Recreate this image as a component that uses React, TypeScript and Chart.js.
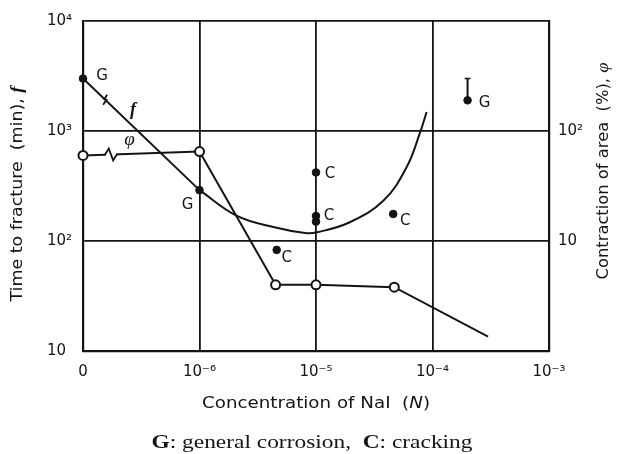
import React, { useEffect, useRef } from 'react';
import { Chart, registerables } from 'chart.js';

Chart.register(...registerables);

// ---------- data ----------
const ZERO_POS = -7; // where concentration "0" sits on the log axis
const X_TICKS = [0, 1e-6, 1e-5, 1e-4, 1e-3];
const X_TICK_LABELS = ['0', '10⁻⁶', '10⁻⁵', '10⁻⁴', '10⁻³'];
const Y_TICKS = [10, 100, 1000, 10000];
const Y_TICK_LABELS = ['10', '10²', '10³', '10⁴'];
const Y2_TICKS = [10, 100];
const Y2_TICK_LABELS = ['10', '10²'];

// f : time to fracture (min)
const F_LINE_CONC = [0, 1e-6];
const F_LINE_TIME = [3000, 290];
const F_CURVE_CONC = [1e-6, 2.1e-6, 4.3e-6, 8.1e-6, 1.02e-5, 1.95e-5, 3.8e-5, 6.0e-5, 7.8e-5, 8.9e-5];
const F_CURVE_TIME = [290, 169, 134, 118, 120, 148, 233, 470, 960, 1490];

// φ : contraction of area (%)
const PHI_CONC = [0, 1e-6, 4.5e-6, 1e-5, 4.7e-5, 3e-4];
const PHI_AREA = [60, 65, 4, 4, 3.8, 1.35];
const PHI_MARKED = [true, true, true, true, true, false];

// G : general corrosion
const G_CONC = [0, 1e-6, 2e-4];
const G_TIME = [3000, 290, 1900];
const G_LABELS = ['G', 'G', 'G'];
// C : cracking
const C_CONC = [1e-5, 1e-5, 1e-5, 4.6e-5, 4.6e-6];
const C_TIME = [420, 169, 150, 176, 83];
const C_LABELS = ['C', 'C', '', 'C', 'C'];
// G point that did not fracture (arrow upward)
const G_ARROW_CONC = [2e-4, 2e-4];
const G_ARROW_TIME = [1900, 3000];

// ---------- text ----------
const LEFT_TITLE = 'Time to fracture  (min), ';
const LEFT_SYMBOL = 'f';
const RIGHT_TITLE = 'Contraction of area  (%), ';
const RIGHT_SYMBOL = 'φ';
const X_TITLE_A = 'Concentration of NaI  (';
const X_TITLE_N = 'N';
const X_TITLE_B = ')';
const CAPTION = [
  { text: 'G', bold: true },
  { text: ': general corrosion,  ', bold: false },
  { text: 'C', bold: true },
  { text: ': cracking', bold: false },
];

// ---------- styles ----------
const INK = '#141414';
const SANS = '"DejaVu Sans", sans-serif';
const SERIF = '"Liberation Serif", serif';
const G_LABEL_OFFSETS = [[19, -2], [-12, 15], [17, 3]];
const C_LABEL_OFFSETS = [[14, 2], [13, 0], [0, 0], [12, 7], [10, 8]];

const toPos = (c: number) => (c === 0 ? ZERO_POS : Math.log10(c));
const pts = (xs: number[], ys: number[]) => xs.map((c, i) => ({ x: toPos(c), y: ys[i] }));

type Seg = { text: string; font: string };
function drawFit(ctx: CanvasRenderingContext2D, segs: Seg[], cx: number, cy: number, width: number, rot: number) {
  ctx.save();
  ctx.translate(cx, cy);
  ctx.rotate(rot);
  let total = 0;
  const ws = segs.map((s) => {
    ctx.font = s.font;
    const w = ctx.measureText(s.text).width;
    total += w;
    return w;
  });
  ctx.scale(width / total, 1);
  ctx.textBaseline = 'middle';
  ctx.textAlign = 'left';
  ctx.fillStyle = INK;
  let xx = -total / 2;
  segs.forEach((s, i) => {
    ctx.font = s.font;
    ctx.fillText(s.text, xx, 0);
    xx += ws[i];
  });
  ctx.restore();
}

const annotPlugin = {
  id: 'annot',
  afterDraw(chart: any) {
    const { ctx, scales } = chart;
    const x = scales.x;
    const y = scales.y;
    const y1 = scales.y1;
    ctx.save();
    ctx.fillStyle = INK;
    ctx.strokeStyle = INK;
    // point labels
    ctx.font = `15px ${SANS}`;
    ctx.textAlign = 'center';
    ctx.textBaseline = 'middle';
    G_CONC.forEach((c, i) => {
      if (!G_LABELS[i]) return;
      const px = x.getPixelForValue(toPos(c));
      const py = y.getPixelForValue(G_TIME[i]);
      ctx.fillText(G_LABELS[i], px + G_LABEL_OFFSETS[i][0], py + G_LABEL_OFFSETS[i][1]);
    });
    C_CONC.forEach((c, i) => {
      if (!C_LABELS[i]) return;
      const px = x.getPixelForValue(toPos(c));
      const py = y.getPixelForValue(C_TIME[i]);
      ctx.fillText(C_LABELS[i], px + C_LABEL_OFFSETS[i][0], py + C_LABEL_OFFSETS[i][1]);
    });
    // curve labels f and φ
    ctx.font = `italic bold 18px ${SERIF}`;
    ctx.fillText('f', x.getPixelForValue(-6.57), y.getPixelForValue(1550));
    ctx.font = `italic 19px ${SERIF}`;
    ctx.fillText('φ', x.getPixelForValue(-6.6), y1.getPixelForValue(83));

    // break marks on the first segments
    const brk = (ax: number, ay: number, bx: number, by: number, t: number, inline: boolean) => {
      const dx = bx - ax, dy = by - ay;
      const len = Math.hypot(dx, dy);
      const ux = dx / len, uy = dy / len;
      const nx = uy, ny = -ux; // normal pointing "up"
      const cx = ax + dx * t, cy = ay + dy * t;
      ctx.lineWidth = 1.8;
      if (inline) {
        ctx.save();
        ctx.strokeStyle = '#fff';
        ctx.lineWidth = 4;
        ctx.beginPath();
        ctx.moveTo(cx - ux * 5, cy - uy * 5);
        ctx.lineTo(cx + ux * 5, cy + uy * 5);
        ctx.stroke();
        ctx.restore();
        ctx.beginPath();
        ctx.moveTo(cx - ux * 6, cy - uy * 6);
        ctx.lineTo(cx - ux * 2 + nx * 6, cy - uy * 2 + ny * 6);
        ctx.lineTo(cx + ux * 2 - nx * 6, cy + uy * 2 - ny * 6);
        ctx.lineTo(cx + ux * 6, cy + uy * 6);
        ctx.stroke();
      } else {
        ctx.beginPath();
        ctx.moveTo(cx - ux * 2 + nx * 5, cy - uy * 2 + ny * 5);
        ctx.lineTo(cx - ux * 1, cy - uy * 1);
        ctx.lineTo(cx + ux * 1 + nx * 1, cy + uy * 1 + ny * 1);
        ctx.lineTo(cx + ux * 2 - nx * 5, cy + uy * 2 - ny * 5);
        ctx.stroke();
      }
    };
    brk(
      x.getPixelForValue(toPos(F_LINE_CONC[0])), y.getPixelForValue(F_LINE_TIME[0]),
      x.getPixelForValue(toPos(F_LINE_CONC[1])), y.getPixelForValue(F_LINE_TIME[1]),
      0.19, false
    );
    brk(
      x.getPixelForValue(toPos(PHI_CONC[0])), y1.getPixelForValue(PHI_AREA[0]),
      x.getPixelForValue(toPos(PHI_CONC[1])), y1.getPixelForValue(PHI_AREA[1]),
      0.24, true
    );

    // axis titles
    const a = chart.chartArea;
    drawFit(ctx, [
      { text: LEFT_TITLE, font: `15px ${SANS}` },
      { text: LEFT_SYMBOL, font: `italic bold 16px ${SERIF}` },
    ], 18, 194, 215, -Math.PI / 2);
    drawFit(ctx, [
      { text: RIGHT_TITLE, font: `15px ${SANS}` },
      { text: RIGHT_SYMBOL, font: `italic 17px ${SERIF}` },
    ], 604, 171, 217, -Math.PI / 2);
    drawFit(ctx, [
      { text: X_TITLE_A, font: `15px ${SANS}` },
      { text: X_TITLE_N, font: `italic 15px ${SANS}` },
      { text: X_TITLE_B, font: `15px ${SANS}` },
    ], (a.left + a.right) / 2, 404, 228, 0);
    drawFit(ctx, CAPTION.map((s) => ({ text: s.text, font: `${s.bold ? 'bold ' : ''}18px ${SERIF}` })),
      312, 443, 321, 0);
    ctx.restore();
  },
};

export default function App() {
  const ref = useRef<HTMLCanvasElement | null>(null);
  useEffect(() => {
    document.body.style.margin = '0';
    const canvas = ref.current!;
    const chart = new Chart(canvas, {
      type: 'scatter',
      data: {
        datasets: [
          {
            label: 'G',
            data: pts(G_CONC, G_TIME),
            showLine: false,
            pointRadius: 3.8,
            pointBackgroundColor: INK,
            pointBorderColor: INK,
            clip: false,
            yAxisID: 'y',
          },
          {
            label: 'C',
            data: pts(C_CONC, C_TIME),
            showLine: false,
            pointRadius: 3.8,
            pointBackgroundColor: INK,
            pointBorderColor: INK,
            clip: false,
            yAxisID: 'y',
          },
          {
            label: 'phi',
            data: pts(PHI_CONC, PHI_AREA),
            showLine: true,
            borderColor: INK,
            borderWidth: 2,
            pointRadius: PHI_MARKED.map((m) => (m ? 4.5 : 0)),
            pointBackgroundColor: '#fff',
            pointBorderColor: INK,
            pointBorderWidth: 2,
            clip: false,
            yAxisID: 'y1',
          },
          {
            label: 'f',
            data: pts(F_LINE_CONC, F_LINE_TIME),
            showLine: true,
            borderColor: INK,
            borderWidth: 2,
            pointRadius: 0,
            clip: false,
            yAxisID: 'y',
          },
          {
            label: 'f-curve',
            data: pts(F_CURVE_CONC, F_CURVE_TIME),
            showLine: true,
            borderColor: INK,
            borderWidth: 2,
            pointRadius: 0,
            tension: 0.4,
            yAxisID: 'y',
          },
          {
            label: 'G-arrow',
            data: pts(G_ARROW_CONC, G_ARROW_TIME),
            showLine: true,
            borderColor: INK,
            borderWidth: 2,
            pointRadius: [0, 3],
            pointStyle: 'line',
            pointBorderColor: INK,
            pointBorderWidth: 1.5,
            yAxisID: 'y',
          },
        ] as any,
      },
      options: {
        animation: false,
        responsive: false,
        events: [],
        layout: { padding: { left: 47, top: 21, right: 0, bottom: 0 } },
        plugins: { legend: { display: false }, tooltip: { enabled: false }, title: { display: false } },
        scales: {
          x: {
            type: 'linear',
            min: toPos(X_TICKS[0]),
            max: toPos(X_TICKS[X_TICKS.length - 1]),
            afterBuildTicks: (s: any) => {
              s.ticks = X_TICKS.map((c) => ({ value: toPos(c) }));
            },
            afterFit: (s: any) => {
              s.height = 103;
            },
            ticks: {
              color: INK,
              padding: 12,
              maxRotation: 0,
              autoSkip: false,
              font: { family: SANS, size: 15 },
              callback: (_v: any, i: number) => X_TICK_LABELS[i],
            },
            grid: { color: INK, lineWidth: 1.8, drawTicks: false },
            border: { color: INK, width: 2.2 },
          },
          y: {
            type: 'logarithmic',
            position: 'left',
            min: Y_TICKS[0],
            max: Y_TICKS[Y_TICKS.length - 1],
            afterBuildTicks: (s: any) => {
              s.ticks = Y_TICKS.map((v) => ({ value: v }));
            },
            afterFit: (s: any) => {
              s.width = 36;
            },
            ticks: {
              color: INK,
              crossAlign: 'far',
              autoSkip: false,
              font: { family: SANS, size: 15 },
              callback: (_v: any, i: number) => Y_TICK_LABELS[i],
            },
            grid: { color: INK, lineWidth: 1.8, drawTicks: false },
            border: { color: INK, width: 2.2 },
          },
          y1: {
            type: 'logarithmic',
            position: 'right',
            min: 1,
            max: 1000,
            afterBuildTicks: (s: any) => {
              s.ticks = Y2_TICKS.map((v) => ({ value: v }));
            },
            afterFit: (s: any) => {
              s.width = 76;
            },
            ticks: {
              color: INK,
              padding: 9,
              autoSkip: false,
              font: { family: SANS, size: 15 },
              callback: (_v: any, i: number) => Y2_TICK_LABELS[i],
            },
            grid: { display: false, drawTicks: false },
            border: { color: INK, width: 2.2 },
          },
        },
      } as any,
      plugins: [annotPlugin],
    });
    return () => chart.destroy();
  }, []);
  return (
    <div style={{ width: 625, height: 454, background: '#fff' }}>
      <canvas ref={ref} width={625} height={454} />
    </div>
  );
}
